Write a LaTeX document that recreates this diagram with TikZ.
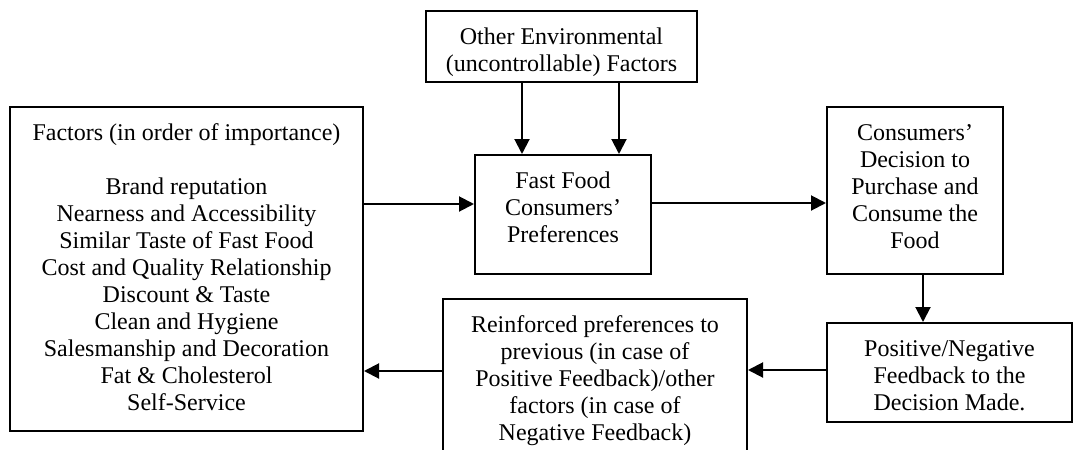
\documentclass[tikz,border=0pt]{standalone}
\usepackage{fontspec}
\setmainfont{Liberation Serif}
\usetikzlibrary{arrows.meta}
\newcommand\tb[3]{\parbox[c][#2][t]{#1}{\centering\vspace*{7.5pt}\strut #3\par}}
\tikzset{
  box/.style={draw, line width=1pt, inner sep=0pt, font=\fontsize{12}{13.5}\selectfont},
  arr/.style={line width=1pt, -{Triangle[length=7.5pt,width=7.5pt]}}
}
\begin{document}
\begin{tikzpicture}[x=0.5pt,y=-0.5pt]
\useasboundingbox (0,0) rectangle (1073,450);
\clip (0,0) rectangle (1073,450);
\fill[white] (0,0) rectangle (1073,450);

\node[box] (env) at (561.5,46.5) {\tb{135.5pt}{35.5pt}{Other Environmental\\(uncontrollable) Factors}};
\node[box] (fact) at (186.5,269) {\tb{176.5pt}{162pt}{Factors (in order of importance)\\[13.5pt]
Brand reputation\\Nearness and Accessibility\\Similar Taste of Fast Food\\Cost and Quality Relationship\\Discount \& Taste\\Clean and Hygiene\\Salesmanship and Decoration\\Fat \& Cholesterol\\Self-Service}};
\node[box] (pref) at (563,214.5) {\tb{88pt}{59.5pt}{Fast Food\\Consumers’\\Preferences}};
\node[box] (dec) at (915,190.5) {\tb{88pt}{83.5pt}{Consumers’\\Decision to\\Purchase and\\Consume the\\Food}};
\node[box] (fb) at (949.5,372.5) {\tb{122.5pt}{49.5pt}{Positive/Negative\\Feedback to the\\Decision Made.}};
\node[box] (reinf) at (595,384.5) {\tb{152pt}{85.5pt}{Reinforced preferences to\\previous (in case of\\Positive Feedback)/other\\factors (in case of\\Negative Feedback)}};

\coordinate (c1) at (522,0);
\coordinate (c2) at (619,0);
\coordinate (c3) at (923,0);
\coordinate (r1) at (0,204);
\coordinate (r2) at (0,203);
\coordinate (r3) at (0,370);
\coordinate (r4) at (0,371);

\draw[arr] (env.south -| c1) -- (pref.north -| c1);
\draw[arr] (env.south -| c2) -- (pref.north -| c2);
\draw[arr] (fact.east |- r1) -- (pref.west |- r1);
\draw[arr] (pref.east |- r2) -- (dec.west |- r2);
\draw[arr] (dec.south -| c3) -- (fb.north -| c3);
\draw[arr] (fb.west |- r3) -- (reinf.east |- r3);
\draw[arr] (reinf.west |- r4) -- (fact.east |- r4);
\end{tikzpicture}
\end{document}
